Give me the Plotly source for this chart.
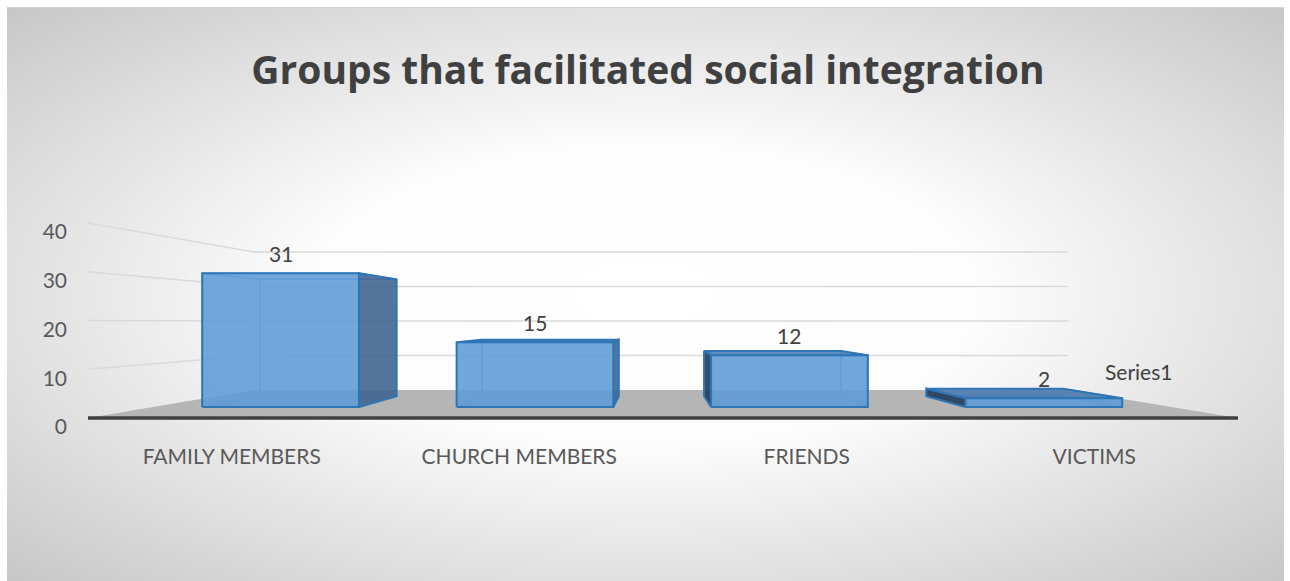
import base64
import plotly.graph_objects as go

# ---- data -------------------------------------------------------------
categories = ["FAMILY MEMBERS", "CHURCH MEMBERS", "FRIENDS", "VICTIMS"]
values = [31, 15, 12, 2]
y_ticks = [0, 10, 20, 30, 40]
series_name = "Series1"
title_text = "Groups that facilitated social integration"

# ---- simple perspective camera (world units = category index / value) --
VP_X, VP_Y = 1.476, 19.7          # vanishing point
D_FRONT, D_BACK = 1.0, 1.412      # floor depth
BAR_D0, BAR_D1 = 1.130, 1.294     # bar depth
BAR_HALF = 0.308                  # half bar width in category units
X_MIN, X_MAX = -0.5, len(categories) - 0.5


def proj(x, y, d):
    return VP_X + (x - VP_X) / d, VP_Y + (y - VP_Y) / d


def poly(pts):
    xs, ys = zip(*[proj(*p) for p in pts])
    return list(xs) + [xs[0]], list(ys) + [ys[0]]


fig = go.Figure()


def add_face(pts, fill=None, line_color="#2e75b6", line_width=2.0):
    xs, ys = poly(pts)
    fig.add_trace(go.Scatter(
        x=xs, y=ys, mode="lines",
        fill="toself" if fill else None,
        fillcolor=fill,
        line=dict(color=line_color, width=line_width),
        hoverinfo="skip", showlegend=False,
    ))


def add_line(p0, p1, color, width):
    (x0, y0), (x1, y1) = proj(*p0), proj(*p1)
    fig.add_trace(go.Scatter(
        x=[x0, x1], y=[y0, y1], mode="lines",
        line=dict(color=color, width=width),
        hoverinfo="skip", showlegend=False,
    ))


# floor
add_face([(X_MIN, 0, D_FRONT), (X_MAX, 0, D_FRONT),
          (X_MAX, 0, D_BACK), (X_MIN, 0, D_BACK)],
         fill="#b5b5b5", line_color="rgba(0,0,0,0)", line_width=0)

# gridlines on back and left walls
for t in y_ticks[1:]:
    add_line((X_MIN, t, D_BACK), (X_MAX, t, D_BACK), "#d9d9d9", 1.5)
    add_line((X_MIN, t, D_FRONT), (X_MIN, t, D_BACK), "#d9d9d9", 1.5)

# front edge of the floor
add_line((X_MIN, 0, D_FRONT), (X_MAX, 0, D_FRONT), "#404040", 3.5)

# 3-D columns
HIDDEN = "rgba(120,175,228,0.95)"
for i, v in enumerate(values):
    x0, x1 = i - BAR_HALF, i + BAR_HALF
    f, b = BAR_D0, BAR_D1
    back = [(x0, 0, b), (x1, 0, b), (x1, v, b), (x0, v, b)]
    bottom = [(x0, 0, f), (x1, 0, f), (x1, 0, b), (x0, 0, b)]
    left = [(x0, 0, f), (x0, 0, b), (x0, v, b), (x0, v, f)]
    right = [(x1, 0, f), (x1, 0, b), (x1, v, b), (x1, v, f)]
    top = [(x0, v, f), (x1, v, f), (x1, v, b), (x0, v, b)]
    front = [(x0, 0, f), (x1, 0, f), (x1, v, f), (x0, v, f)]

    right_visible = x1 < VP_X
    top_visible = v < VP_Y

    # hidden faces: edges only, seen through the translucent front
    add_face(back, line_color=HIDDEN, line_width=1.2)
    add_face(bottom, line_color=HIDDEN, line_width=1.2)
    add_face(left if right_visible else right, line_color=HIDDEN, line_width=1.2)
    if not top_visible:
        add_face(top, line_color=HIDDEN, line_width=1.2)

    # visible faces
    if right_visible:
        add_face(right, fill="rgba(62,98,140,0.88)")
    else:
        add_face(left, fill="rgba(38,62,92,0.92)")
    if top_visible:
        add_face(top, fill="rgba(72,122,178,0.85)")
    add_face(front, fill="rgba(93,155,213,0.88)")

    # value label above the front top edge
    lx, ly = proj(i, v, f)
    fig.add_annotation(x=lx, y=ly, text=str(v), showarrow=False,
                       yshift=20, xanchor="center", yanchor="middle",
                       font=dict(family="Lato", size=21, color="#404040"))

# depth (series) axis label
sx, sy = proj(X_MAX, 0, (D_FRONT + D_BACK) / 2)
fig.add_annotation(x=sx, y=sy, text=series_name, showarrow=False,
                   yshift=30, xanchor="center", yanchor="middle",
                   font=dict(family="Lato", size=21, color="#404040"))

# ---- background: soft radial gradient panel ----------------------------
W, H = 1290, 581
L, R, T, B = 88, 52, 150, 151
PW, PH = W - L - R, H - T - B
panel = (7, 7, 1284, 581)  # left, top, right, bottom in px
svg = (
    '<svg xmlns="http://www.w3.org/2000/svg" width="1277" height="574" '
    'preserveAspectRatio="none" viewBox="0 0 1277 574">'
    '<defs><radialGradient id="g" cx="0.5" cy="0.5" r="0.74">'
    '<stop offset="0" stop-color="#ffffff"/>'
    '<stop offset="0.35" stop-color="#fdfdfd"/>'
    '<stop offset="1" stop-color="#c3c3c3"/>'
    '</radialGradient></defs>'
    '<rect width="1277" height="574" fill="url(#g)"/>'
    '<line x1="0" y1="0.5" x2="1277" y2="0.5" stroke="#d4d4d4" stroke-width="1"/>'
    '</svg>'
)
src = "data:image/svg+xml;base64," + base64.b64encode(svg.encode()).decode()
fig.add_layout_image(
    source=src, xref="paper", yref="paper",
    x=(panel[0] - L) / PW, y=(H - B - panel[1]) / PH,
    sizex=(panel[2] - panel[0]) / PW, sizey=(panel[3] - panel[1]) / PH,
    xanchor="left", yanchor="top", sizing="stretch", layer="below",
)

px_per_unit = 4.875  # front-plane scale
y_lo = -(H - B - 418) / px_per_unit
y_hi = (418 - T) / px_per_unit

fig.update_layout(
    width=W, height=H,
    margin=dict(l=L, r=R, t=T, b=B, pad=0),
    paper_bgcolor="white", plot_bgcolor="rgba(0,0,0,0)",
    title=dict(text=title_text, x=648 / W, xref="container", xanchor="center",
               y=1 - 70 / H, yref="container", yanchor="middle",
               font=dict(family="Open Sans", size=39, color="#404040", weight="bold")),
    xaxis=dict(range=[X_MIN, X_MAX], tickvals=list(range(len(categories))),
               ticktext=categories, showgrid=False, zeroline=False,
               showline=False, ticks="", ticklabelstandoff=12,
               tickfont=dict(family="Lato", size=21, color="#595959"),
               fixedrange=True),
    yaxis=dict(range=[y_lo, y_hi], tickvals=y_ticks, showgrid=False,
               zeroline=False, showline=False, ticks="",
               ticklabelstandoff=20, ticklabelshift=9,
               tickfont=dict(family="Lato", size=21, color="#595959"),
               fixedrange=True),
    showlegend=False,
)

fig.write_html("out.html")
